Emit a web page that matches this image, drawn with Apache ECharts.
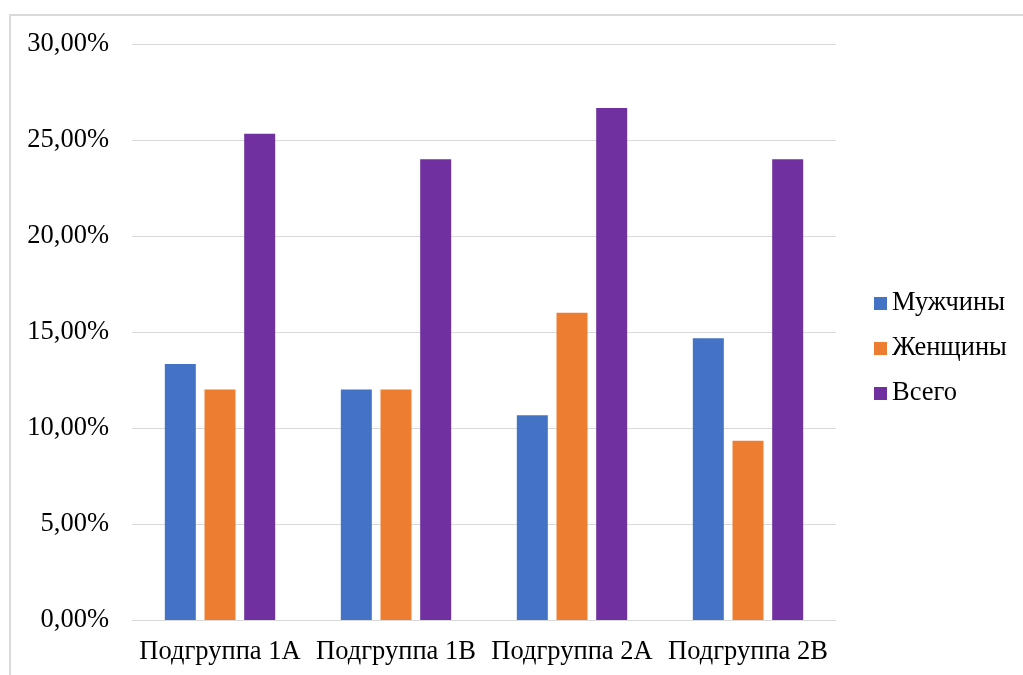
<!DOCTYPE html>
<html>
<head>
<meta charset="utf-8">
<script src="https://cdn.jsdelivr.net/npm/echarts@6/dist/echarts.min.js"></script>
<style>
  html, body { margin: 0; padding: 0; background: #fff; }
  #chart { width: 1023px; height: 675px; }
</style>
</head>
<body>
<div id="chart"></div>
<script>
// Subgroups along the x axis
const categories = ['Подгруппа 1A', 'Подгруппа 1B', 'Подгруппа 2A', 'Подгруппа 2B'];
// Share per subgroup, percent
const men = [13.33, 12.0, 10.67, 14.67];
const women = [12.0, 12.0, 16.0, 9.33];
const total = [25.33, 24.0, 26.67, 24.0];
const seriesNames = ['Мужчины', 'Женщины', 'Всего'];
const yTicks = { min: 0, max: 30, step: 5 };

const font = '"Liberation Serif", "Times New Roman", serif';
const fontSize = 26.5;
const gridColor = '#d9d9d9';

const chart = echarts.init(document.getElementById('chart'));
const fmtPct = v => v.toFixed(2).replace('.', ',') + '%';

chart.setOption({
  animation: false,
  textStyle: { fontFamily: font },
  graphic: [{
    type: 'rect',
    shape: { x: 10, y: 15, width: 1100, height: 800 },
    style: { fill: 'none', stroke: gridColor, lineWidth: 2 },
    silent: true
  }],
  grid: { left: 132, right: 187, top: 44, bottom: 55, containLabel: false },
  legend: {
    orient: 'vertical',
    left: 869,
    top: 285,
    itemWidth: 13,
    itemHeight: 13,
    itemGap: 18,
    icon: 'rect',
    textStyle: { fontFamily: font, fontSize: fontSize, color: '#000', lineHeight: 27 },
    data: seriesNames
  },
  xAxis: {
    type: 'category',
    data: categories,
    axisTick: { show: false },
    axisLine: { lineStyle: { color: gridColor, width: 1 } },
    axisLabel: { color: '#000', fontFamily: font, fontSize: fontSize, margin: 19, interval: 0, hideOverlap: false }
  },
  yAxis: {
    type: 'value',
    min: yTicks.min,
    max: yTicks.max,
    interval: yTicks.step,
    axisLine: { show: false },
    axisTick: { show: false },
    splitLine: { lineStyle: { color: gridColor, width: 1 } },
    axisLabel: { color: '#000', fontFamily: font, fontSize: fontSize, margin: 23, formatter: fmtPct }
  },
  series: [
    { name: seriesNames[0], type: 'bar', data: men, barWidth: 31, barGap: '28%', itemStyle: { color: '#4472C4' } },
    { name: seriesNames[1], type: 'bar', data: women, barWidth: 31, barGap: '28%', itemStyle: { color: '#ED7D31' } },
    { name: seriesNames[2], type: 'bar', data: total, barWidth: 31, barGap: '28%', itemStyle: { color: '#7030A0' } }
  ]
});
</script>
</body>
</html>
